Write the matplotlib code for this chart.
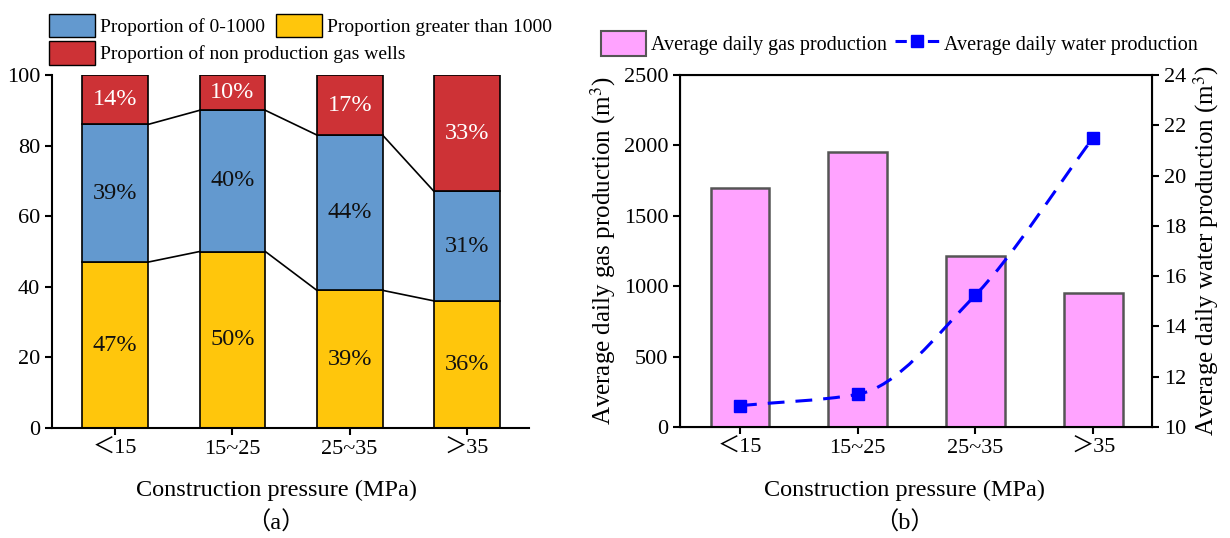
import numpy as np
import matplotlib
matplotlib.use('Agg')
from matplotlib import pyplot as plt
from matplotlib.patches import Patch, PathPatch
from matplotlib.lines import Line2D
from matplotlib.path import Path

plt.rcParams['font.family'] = ['Liberation Serif', 'Noto Sans CJK SC']
plt.rcParams['mathtext.fontset'] = 'stix'

categories = ['＜15', '15~25', '25~35', '＞35']
share_over_1000 = [47, 50, 39, 36]
share_0_1000 = [39, 40, 44, 31]
share_no_gas = [14, 10, 17, 33]

gas_production = [1700, 1955, 1215, 950]
water_production = [10.85, 11.3, 15.25, 21.5]

W, H = 1230, 538
fig = plt.figure(figsize=(W / 100, H / 100), dpi=100)

# ---- panel (a)
ax1 = fig.add_axes([52 / W, 1 - 428 / H, (529 - 52) / W, (428 - 75) / H])
x = np.arange(len(categories))
bw = 0.56
yellow, blue, red = '#FFC60C', '#6399CF', '#CD3236'
low = np.array(share_over_1000)
mid = np.array(share_0_1000)
top = np.array(share_no_gas)
ax1.bar(x, low, bw, color=yellow, edgecolor='black', linewidth=1.2, zorder=2)
ax1.bar(x, mid, bw, bottom=low, color=blue, edgecolor='black', linewidth=1.2, zorder=2)
ax1.bar(x, top, bw, bottom=low + mid, color=red, edgecolor='black', linewidth=1.2, zorder=2)

# connecting lines between stacked boundaries
for level in (low, low + mid):
    for i in range(len(x) - 1):
        ax1.plot([x[i] + bw / 2, x[i + 1] - bw / 2], [level[i], level[i + 1]],
                 color='black', lw=1.2, zorder=1)

for i in range(len(x)):
    ax1.text(x[i], low[i] / 2, f'{low[i]}%', ha='center', va='center', fontsize=17.5, color='#111111')
    ax1.text(x[i], low[i] + mid[i] / 2, f'{mid[i]}%', ha='center', va='center', fontsize=17.5, color='#111111')
    ax1.text(x[i], low[i] + mid[i] + top[i] / 2, f'{top[i]}%', ha='center', va='center', fontsize=17.5,
             color='white')

ax1.set_xlim(-0.54, 3.53)
ax1.set_ylim(0, 100)
ax1.set_yticks(range(0, 101, 20))
ax1.set_xticks(x)
ax1.set_xticklabels(categories)
ax1.spines['top'].set_visible(False)
ax1.spines['right'].set_visible(False)
for s in ('left', 'bottom'):
    ax1.spines[s].set_linewidth(1.5)
ax1.tick_params(direction='out', length=5, width=1.5, labelsize=16)

leg_kw = dict(loc='upper left', frameon=False, fontsize=14, handlelength=2.37, handleheight=1.49,
              handletextpad=0.26, borderpad=0, borderaxespad=0)
row1 = [Patch(facecolor=blue, edgecolor='black', label='Proportion of 0-1000'),
        Patch(facecolor=yellow, edgecolor='black', label='Proportion greater than 1000')]
row2 = [Patch(facecolor=red, edgecolor='black', label='Proportion of non production gas wells')]
fig.legend(handles=row1, bbox_to_anchor=(49 / W, 1 - 13.5 / H), ncol=2, columnspacing=0.57, **leg_kw)
fig.legend(handles=row2, bbox_to_anchor=(49 / W, 1 - 41 / H), **leg_kw)

fig.text(276 / W, 1 - 490 / H, 'Construction pressure (MPa)', ha='center', va='center', fontsize=17.5)
fig.text(276 / W, 1 - 523 / H, '（a）', ha='center', va='center', fontsize=17.5)

# ---- panel (b)
ax2 = fig.add_axes([680 / W, 1 - 427 / H, (1152 - 680) / W, (427 - 75) / H])
pink = '#FFA3FF'
ax2.bar(x, gas_production, 0.5, color=pink, edgecolor='#555555', linewidth=1.8, zorder=2)
ax2.set_xlim(-0.51, 3.5)
ax2.set_ylim(0, 2500)
ax2.set_xticks(x)
ax2.set_xticklabels(categories)
ax2.set_ylabel('Average daily gas production (m$^3$)', fontsize=18, labelpad=4)
for s in ax2.spines.values():
    s.set_linewidth(1.5)
ax2.tick_params(direction='out', length=5, width=1.5, labelsize=16)

ax3 = ax2.twinx()
ax3.set_ylim(10, 24)
ax3.set_yticks(range(10, 25, 2))
ax3.tick_params(direction='out', length=5, width=1.5, labelsize=16)
ax3.set_ylabel('Average daily water production (m$^3$)', fontsize=18, labelpad=4)

# smooth monotone curve through the water points
wx = x.astype(float)
wy = np.array(water_production)
d = np.diff(wy) / np.diff(wx)
m = np.empty_like(wy)
m[0], m[-1] = d[0], d[-1]
for i in range(1, len(wy) - 1):
    m[i] = 2 / (1 / d[i - 1] + 1 / d[i])
verts, codes = [(wx[0], wy[0])], [Path.MOVETO]
for i in range(len(wy) - 1):
    h = wx[i + 1] - wx[i]
    verts += [(wx[i] + h / 3, wy[i] + m[i] * h / 3),
              (wx[i + 1] - h / 3, wy[i + 1] - m[i + 1] * h / 3),
              (wx[i + 1], wy[i + 1])]
    codes += [Path.CURVE4] * 3
ax3.add_patch(PathPatch(Path(verts, codes), facecolor='none', edgecolor='#0000FF',
                        lw=2.2, linestyle=(0, (5.5, 3.6)), zorder=3))
ax3.plot(wx, wy, 's', color='#0000FF', markersize=9, zorder=4)

handles2 = [Patch(facecolor=pink, edgecolor='#555555', linewidth=1.5, label='Average daily gas production'),
            Line2D([], [], color='#0000FF', lw=2.2, ls='--', marker='s', markersize=9,
                   label='Average daily water production')]
fig.legend(handles=handles2, loc='upper left', bbox_to_anchor=(601 / W, 1 - 31.5 / H), ncol=2,
           frameon=False, fontsize=14.5, handlelength=2.25, handleheight=1.47, handletextpad=0.22,
           columnspacing=0.4, borderpad=0, borderaxespad=0)

fig.text(904 / W, 1 - 490 / H, 'Construction pressure (MPa)', ha='center', va='center', fontsize=17.5)
fig.text(904 / W, 1 - 523 / H, '（b）', ha='center', va='center', fontsize=17.5)

fig.savefig('out.png', dpi=100)
